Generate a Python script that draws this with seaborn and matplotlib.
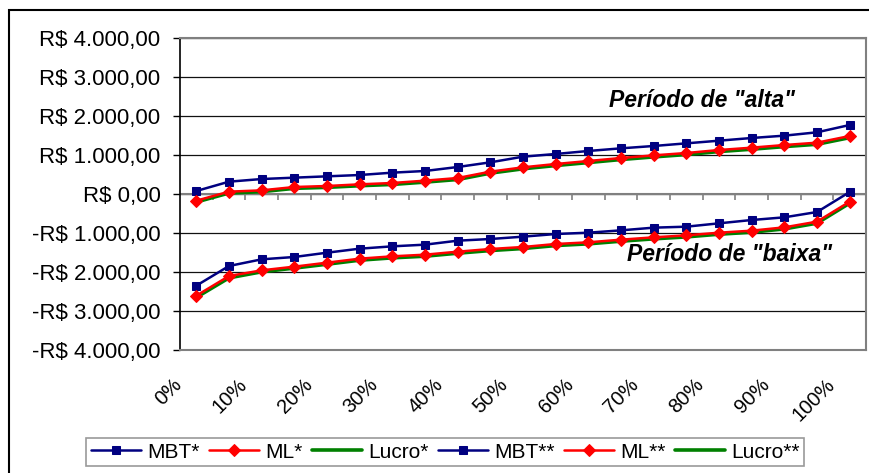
import numpy as np
import pandas as pd
import matplotlib
matplotlib.use("Agg")
import matplotlib.pyplot as plt
import seaborn as sns
from matplotlib.ticker import FuncFormatter
from matplotlib.transforms import ScaledTranslation
from matplotlib.patches import Rectangle

# categorias do eixo x (posição no período)
categorias = ["0%", "5%", "10%", "15%", "20%", "25%", "30%", "35%", "40%", "45%", "50%",
              "55%", "60%", "65%", "70%", "75%", "80%", "85%", "90%", "95%", "100%"]

# período de "alta"
mbt_alta = [77, 316, 384, 419, 453, 487, 547, 590, 692, 812, 957,
            1026, 1103, 1171, 1231, 1299, 1367, 1436, 1496, 1582, 1769]
ml_alta = [-171, 60, 94, 179, 205, 248, 282, 342, 410, 573, 684,
           769, 846, 923, 991, 1051, 1128, 1188, 1256, 1316, 1487]
lucro_alta = [-205, 25, 60, 145, 170, 212, 245, 305, 372, 535, 646,
              730, 806, 884, 951, 1012, 1088, 1148, 1215, 1275, 1445]

# período de "baixa"
mbt_baixa = [-2350, -1846, -1675, -1615, -1505, -1402, -1342, -1299, -1197, -1154, -1094,
             -1026, -992, -932, -863, -838, -752, -667, -598, -462, 51]
ml_baixa = [-2607, -2103, -1957, -1863, -1761, -1658, -1598, -1556, -1479, -1410, -1359,
            -1282, -1239, -1171, -1111, -1060, -992, -940, -855, -709, -197]
lucro_baixa = [-2650, -2150, -1995, -1900, -1800, -1697, -1637, -1595, -1518, -1450, -1398,
               -1322, -1278, -1210, -1150, -1100, -1031, -980, -895, -748, -235]

y_ticks = [-4000, -3000, -2000, -1000, 0, 1000, 2000, 3000, 4000]

sns.set_theme(style="white")
plt.rcParams["font.family"] = ["Liberation Sans", "DejaVu Sans"]
plt.rcParams["text.color"] = "black"
plt.rcParams["xtick.color"] = "black"
plt.rcParams["ytick.color"] = "black"

W, H = 869, 473
fig = plt.figure(figsize=(W / 100, H / 100), dpi=100)
fig.patch.set_facecolor("white")
ax = fig.add_axes([180 / W, (H - 350) / H, 686 / W, 312 / H])

x = np.arange(len(categorias))
series = [
    ("MBT*", mbt_alta, "#000080", "s", 1.8, 6.2, 4),
    ("ML*", ml_alta, "#FF0000", "D", 1.8, 6.2, 4),
    ("Lucro*", lucro_alta, "#008000", None, 2.6, 0, 3),
    ("MBT**", mbt_baixa, "#000080", "s", 1.8, 6.2, 4),
    ("ML**", ml_baixa, "#FF0000", "D", 1.8, 6.2, 4),
    ("Lucro**", lucro_baixa, "#008000", None, 2.6, 0, 3),
]
for nome, vals, cor, marc, lw, ms, z in series:
    df = pd.DataFrame({"x": x, "valor": vals})
    sns.lineplot(data=df, x="x", y="valor", ax=ax, color=cor, marker=marc,
                 markersize=ms, markeredgecolor=cor, linewidth=lw, label=nome,
                 zorder=z, legend=False)

ax.set_xlim(-0.5, len(categorias) - 0.5)
ax.set_ylim(-4000, 4000)
ax.set_yticks(y_ticks)


def reais(v, pos):
    s = f"{abs(v):,.2f}".replace(",", "X").replace(".", ",").replace("X", ".")
    return ("-R$ " if v < 0 else "R$ ") + s


ax.yaxis.set_major_formatter(FuncFormatter(reais))
ax.yaxis.grid(True, color="#111111", linewidth=0.9)
ax.xaxis.grid(False)
ax.set_axisbelow(True)
ax.tick_params(axis="y", direction="out", length=5, width=1, color="black",
               labelsize=16, pad=9, left=True)

# rótulos do eixo x (um a cada dois)
ax.set_xticks(x[::2])
ax.set_xticklabels(categorias[::2], rotation=45, ha="right", fontsize=14.5)
ax.tick_params(axis="x", length=0, pad=18)
for lbl in ax.get_xticklabels():
    lbl.set_transform(lbl.get_transform() + ScaledTranslation(-0.11, 0, fig.dpi_scale_trans))

ax.set_xlabel("")
ax.set_ylabel("")

# eixo das categorias cruzando em zero, com marcas entre categorias
ax.axhline(0, color="#808080", linewidth=1.5, zorder=2)
ax.vlines(x[:-1] + 0.5, -150, 0, color="#808080", linewidth=1.2, zorder=2)

for lado in ["top", "right", "bottom"]:
    ax.spines[lado].set_color("#808080")
    ax.spines[lado].set_linewidth(1.5)
ax.spines["left"].set_color("black")
ax.spines["left"].set_linewidth(1.2)

ax.text(15.48, 2410, 'Período de "alta"', fontsize=16.5, fontweight="bold",
        fontstyle="italic", ha="center", va="center")
ax.text(16.33, -1540, 'Período de "baixa"', fontsize=16.5, fontweight="bold",
        fontstyle="italic", ha="center", va="center")

handles, labels = ax.get_legend_handles_labels()
leg = fig.legend(handles, labels, loc="center", bbox_to_anchor=(445 / W, 1 - 452 / H),
                 ncol=6, frameon=True, fancybox=False, edgecolor="#808080",
                 fontsize=15, handlelength=2.4, columnspacing=0.45, handletextpad=0.3,
                 borderpad=0.2, borderaxespad=0)
leg.get_frame().set_linewidth(1.2)

# moldura externa da área do gráfico
fig.add_artist(Rectangle((9 / W, -0.05), 1.1, (1 - 10 / H) + 0.05, transform=fig.transFigure,
                         fill=False, edgecolor="black", linewidth=1.5, clip_on=False))

fig.savefig("out.png", dpi=100)
